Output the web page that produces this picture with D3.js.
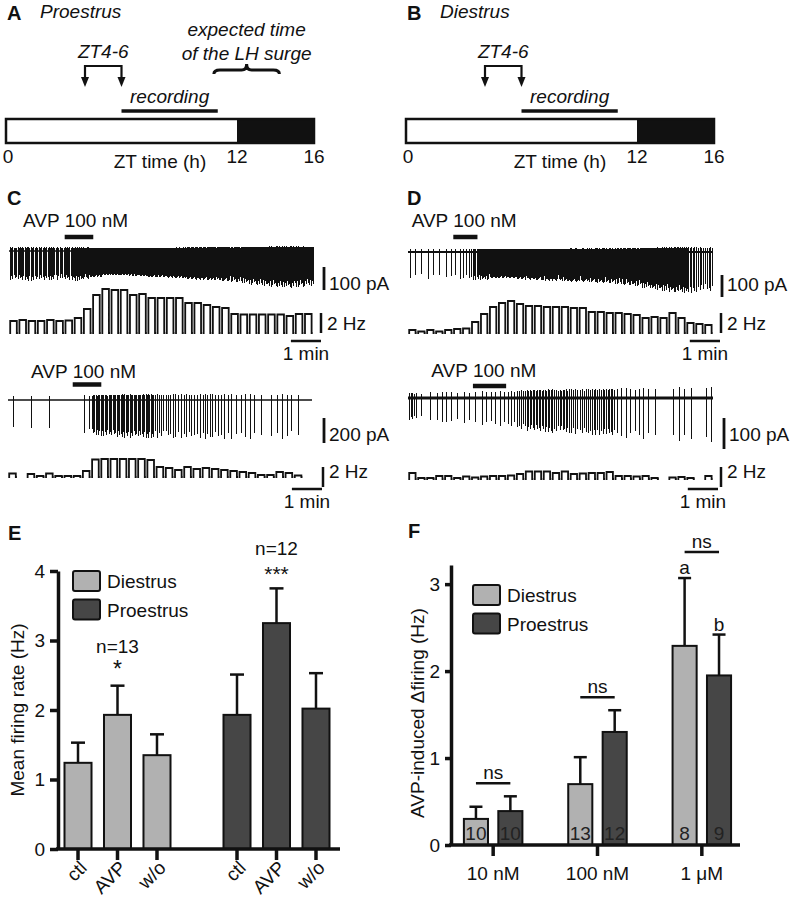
<!DOCTYPE html>
<html><head><meta charset="utf-8">
<script src="https://cdn.jsdelivr.net/npm/d3@7"></script>
<style>
body{margin:0;background:#fff}
svg{display:block}
text{font-family:"Liberation Sans",Arial,Helvetica,sans-serif}
</style>
</head><body>
<svg id="fig" width="792" height="900"></svg>
<script>
// ---------------- DATA ----------------
// Panels A/B: zeitgeber timeline (h)
const ztTicks = [0, 12, 16];
const lightPhase = [0, 12];
const darkPhase = [12, 16];
const zt46 = [4, 6];
const recordingWindow = [6, 11];
const lhSurgeWindow = [10.8, 14.2];

// Panels C/D: example recordings (rate histograms in Hz per bin, spike amplitude in pA per bin)
const traceMinutes = 10.1;
const c1Freq = [1.2,1.3,1.2,1.2,1.3,1.2,1.25,1.5,2.4,3.8,4.4,4.3,4.3,3.8,3.9,3.5,3.5,3.5,3.5,3.0,3.0,2.8,2.6,2.5,1.9,1.85,1.85,1.85,1.85,1.85,1.7,1.9,1.9];
const c1Amp  = [125,128,130,126,128,124,126,130,120,112,106,104,106,108,110,112,114,116,118,122,124,126,128,132,136,140,146,150,155,158,160,156,150];
const c2Freq = [0.35,0,0.3,0.1,0.35,0.1,0.1,0.1,0.6,1.75,1.8,1.8,1.8,1.8,1.8,1.7,1.0,0.9,0.7,1.0,0.8,0.9,0.8,0.7,0.6,0.5,0.4,0.2,0.2,0.5,0.4,0.15,0];
const c2Amp  = [215,0,230,235,240,240,250,255,260,280,290,295,300,300,300,305,300,305,300,310,305,310,310,315,310,320,315,320,310,315,300,310,0];
const d1Freq = [0.3,0.15,0.3,0.15,0.3,0.4,0.45,1.1,1.9,2.6,3.0,3.2,2.9,2.7,2.7,2.6,2.6,2.6,2.5,2.5,2.1,2.1,2.0,2.0,1.9,1.8,1.5,1.6,1.5,2.0,1.5,1.0,0.9,0.8];
const d1Amp  = [120,122,124,120,122,124,125,128,126,120,118,120,122,125,128,130,130,132,135,135,138,140,142,145,150,155,165,172,178,182,185,185,182,180];
const d2Freq = [0.6,0.1,0.1,0.3,0.3,0.1,0.25,0.15,0.25,0.3,0.3,0.35,0.5,0.75,0.75,0.75,0.6,0.75,0.5,0.55,0.6,0.6,0.7,0.3,0.3,0.25,0.3,0.1,0,0.15,0.2,0.1,0,0.3];
const d2Amp  = [70,70,72,80,82,80,85,86,88,90,92,95,100,105,108,110,112,112,115,118,120,120,122,125,128,130,132,135,135,140,145,148,150,152];
const avpC1 = [1.85, 2.8];
const avpC2 = [2.15, 3.1];
const avpD1 = [1.5, 2.3];
const avpD2 = [2.15, 3.25];
const spikeShape = [1, 0.88, 0.96, 0.82, 0.93, 0.9, 0.99, 0.85];

// Panel E
const eGroups = ["Diestrus", "Proestrus"];
const eConds = ["ctl", "AVP", "w/o"];
const eYTicks = [0, 1, 2, 3, 4];
const eDiestrusMean = [1.24, 1.93, 1.35];
const eDiestrusSem  = [0.29, 0.42, 0.30];
const eProestrusMean = [1.93, 3.25, 2.02];
const eProestrusSem  = [0.58, 0.50, 0.51];
const eNLabels = ["n=13", "n=12"];
const eStars = ["*", "***"];

// Panel F
const fConcs = ["10 nM", "100 nM", "1 \u03BCM"];
const fYTicks = [0, 1, 2, 3];
const fDiestrusMean = [0.30, 0.70, 2.29];
const fDiestrusSem  = [0.14, 0.31, 0.78];
const fProestrusMean = [0.39, 1.30, 1.95];
const fProestrusSem  = [0.17, 0.25, 0.47];
const fDiestrusN = ["10", "13", "8"];
const fProestrusN = ["10", "12", "9"];
const fNsLevel = [0.71, 1.70, 3.37];
const fLetters = ["a", "b"];

// ---------------- STYLE ----------------
const INK = "#111";
const LIGHT = "#b1b1b1";
const DARK = "#464646";
const FS = 19;

const svg = d3.select("#fig");
svg.append("rect").attr("width", 792).attr("height", 900).attr("fill", "#fff");

function label(g, x, y, str, o = {}) {
  return g.append("text").attr("x", x).attr("y", y)
    .attr("font-size", o.size || FS)
    .attr("font-style", o.italic ? "italic" : null)
    .attr("font-weight", o.bold ? "bold" : null)
    .attr("text-anchor", o.anchor || "start")
    .attr("fill", o.fill || INK)
    .text(str);
}

// ---------------- A / B ----------------
function drawTimeline(ox, letter, title, withSurge) {
  const g = svg.append("g");
  const x = d3.scaleLinear().domain([ztTicks[0], ztTicks[ztTicks.length - 1]]).range([ox + 6, ox + 314]);
  label(g, ox + 7, 20, letter, {bold: true, size: 20});
  label(g, ox + 40, 18, title, {italic: true});

  g.append("rect").attr("x", x(lightPhase[0])).attr("y", 119)
    .attr("width", x(lightPhase[1]) - x(lightPhase[0])).attr("height", 24).attr("fill", "#fff");
  g.append("rect").attr("x", x(darkPhase[0])).attr("y", 119)
    .attr("width", x(darkPhase[1]) - x(darkPhase[0])).attr("height", 24).attr("fill", INK);
  g.append("rect").attr("x", x(ztTicks[0])).attr("y", 119)
    .attr("width", x(ztTicks[ztTicks.length - 1]) - x(ztTicks[0])).attr("height", 24)
    .attr("fill", "none").attr("stroke", INK).attr("stroke-width", 2.5);

  ztTicks.forEach(t => label(g, x(t) + (t === 0 ? 2 : 0), 163, String(t), {anchor: "middle"}));
  label(g, x(8), 168, "ZT time (h)", {anchor: "middle"});

  // recording bar
  g.append("line").attr("x1", x(recordingWindow[0])).attr("x2", x(recordingWindow[1]))
    .attr("y1", 111).attr("y2", 111).attr("stroke", INK).attr("stroke-width", 3.5);
  label(g, (x(recordingWindow[0]) + x(recordingWindow[1])) / 2, 103, "recording", {italic: true, anchor: "middle"});

  // ZT4-6 bracket with arrows
  const xa = x(zt46[0]) + 2, xb = x(zt46[1]);
  g.append("path").attr("d", `M${xa},80 V66 H${xb} V80`).attr("fill", "none")
    .attr("stroke", INK).attr("stroke-width", 2.2);
  [xa, xb].forEach(xx => g.append("path")
    .attr("d", `M${xx - 4},77 L${xx + 4},77 L${xx},87 Z`).attr("fill", INK));
  label(g, (xa + xb) / 2, 58, "ZT4-6", {italic: true, anchor: "middle"});

  if (withSurge) {
    const x1 = x(lhSurgeWindow[0]), x2 = x(lhSurgeWindow[1]), m = (x1 + x2) / 2;
    g.append("path")
      .attr("d", `M${x1},74 Q${x1},70 ${x1 + 6},70 H${m - 5} Q${m},70 ${m},64 Q${m},70 ${m + 5},70 H${x2 - 6} Q${x2},70 ${x2},74`)
      .attr("fill", "none").attr("stroke", INK).attr("stroke-width", 3);
    label(g, m, 36, "expected time", {italic: true, anchor: "middle"});
    label(g, m, 60, "of the LH surge", {italic: true, anchor: "middle"});
  }
}
drawTimeline(0, "A", "Proestrus", true);
drawTimeline(400, "B", "Diestrus", false);

// ---------------- C / D traces ----------------
function drawTrace(c) {
  const g = svg.append("g");
  const xs = d3.scaleLinear().domain([0, traceMinutes]).range([c.x0, c.x1]);
  const ys = d3.scaleLinear().domain([0, -100]).range([c.rawBase, c.rawBase + c.px100]);
  const yf = d3.scaleLinear().domain([0, 5]).range([c.freqBase, c.freqBase - 50]);
  const binW = traceMinutes / c.freq.length;

  // AVP application
  g.append("line").attr("x1", xs(c.avp[0])).attr("x2", xs(c.avp[1]))
    .attr("y1", c.avpY).attr("y2", c.avpY).attr("stroke", INK).attr("stroke-width", 4.5);
  label(g, xs(c.avp[0]) - 5, c.avpY - c.avpGap, "AVP", {anchor: "end"});
  label(g, xs(c.avp[0]), c.avpY - c.avpGap, "100 nM");

  // baseline
  g.append("line").attr("x1", c.x0).attr("x2", c.x1).attr("y1", c.rawBase).attr("y2", c.rawBase)
    .attr("stroke", INK).attr("stroke-width", c.baseW);

  // spikes
  const p = d3.path();
  c.freq.forEach((f, i) => {
    const n = Math.round(f * c.density);
    for (let k = 0; k < n; k++) {
      const t = (i + (k + 0.5) / n) * binW;
      const a = c.amp[i] * spikeShape[(i * 3 + k) % spikeShape.length];
      const xx = Math.round(xs(t)) + 0.5;
      p.moveTo(xx, ys(a * c.up));
      p.lineTo(xx, ys(-a));
    }
  });
  g.append("path").attr("d", p.toString()).attr("fill", "none")
    .attr("stroke", INK).attr("stroke-width", c.spikeW).attr("shape-rendering", "crispEdges");

  // rate histogram
  const q = d3.path();
  c.freq.forEach((f, i) => {
    if (f <= 0) return;
    const xl = xs(i * binW), xr = xs((i + 1) * binW);
    q.moveTo(xl + 0.3, c.freqBase);
    q.lineTo(xl + 1.2, c.freqBase);
    q.lineTo(xl + 1.2, yf(f));
    q.lineTo(xr - 1.4, yf(f));
    q.lineTo(xr - 1.4, c.freqBase);
    q.lineTo(xr - 0.3, c.freqBase);
  });
  g.append("path").attr("d", q.toString()).attr("fill", "none")
    .attr("stroke", INK).attr("stroke-width", 1.8).attr("stroke-linejoin", "miter");

  // scale bars
  g.append("line").attr("x1", c.sbX).attr("x2", c.sbX)
    .attr("y1", c.paBottom).attr("y2", c.paBottom - (ys(-c.paLen) - ys(0)))
    .attr("stroke", INK).attr("stroke-width", 2.8);
  label(g, c.sbX + 5, c.paText, c.paLen + " pA");
  g.append("line").attr("x1", c.hzX).attr("x2", c.hzX)
    .attr("y1", c.hzBottom).attr("y2", c.hzBottom - (yf(0) - yf(2)))
    .attr("stroke", INK).attr("stroke-width", 2.5);
  label(g, c.hzX + 6, c.hzText, "2 Hz");
  const mlen = xs(1) - xs(0);
  g.append("line").attr("x1", c.minEnd - mlen).attr("x2", c.minEnd)
    .attr("y1", c.minY).attr("y2", c.minY).attr("stroke", INK).attr("stroke-width", 2.5);
  label(g, c.minEnd - mlen / 2, c.minY + 19, "1 min", {anchor: "middle"});
}

label(svg, 7, 205, "C", {bold: true, size: 20});
label(svg, 407, 205, "D", {bold: true, size: 20});

drawTrace({freq: c1Freq, amp: c1Amp, avp: avpC1, x0: 9, x1: 313, rawBase: 251, px100: 23,
  freqBase: 333, density: 6, up: 0.13, spikeW: 1, baseW: 1.5, avpY: 237, avpGap: 10,
  sbX: 324, paBottom: 290, paLen: 100, paText: 290, hzX: 321, hzBottom: 333, hzText: 330,
  minEnd: 321, minY: 341});
drawTrace({freq: c2Freq, amp: c2Amp, avp: avpC2, x0: 8, x1: 312, rawBase: 400, px100: 12.5,
  freqBase: 477, density: 4, up: 0.15, spikeW: 1, baseW: 1.6, avpY: 384.5, avpGap: 7,
  sbX: 324, paBottom: 443, paLen: 200, paText: 441, hzX: 323, hzBottom: 487, hzText: 478,
  minEnd: 322, minY: 489});
drawTrace({freq: d1Freq, amp: d1Amp, avp: avpD1, x0: 408, x1: 713, rawBase: 252, px100: 22,
  freqBase: 333, density: 6, up: 0.12, spikeW: 1, baseW: 2, avpY: 237, avpGap: 10,
  sbX: 722, paBottom: 297, paLen: 100, paText: 291, hzX: 721, hzBottom: 333, hzText: 330,
  minEnd: 720, minY: 341});
drawTrace({freq: d2Freq, amp: d2Amp, avp: avpD2, x0: 408, x1: 713, rawBase: 398, px100: 31,
  freqBase: 479, density: 8, up: 0.25, spikeW: 1, baseW: 3, avpY: 386, avpGap: 9,
  sbX: 724, paBottom: 449, paLen: 100, paText: 441, hzX: 721, hzBottom: 487, hzText: 478,
  minEnd: 718, minY: 489});

// ---------------- shared bar helpers ----------------
function styleAxis(g) {
  g.select(".domain").attr("stroke", INK).attr("stroke-width", 3.5);
  g.selectAll(".tick line").attr("stroke", INK).attr("stroke-width", 3.5);
  g.selectAll(".tick text").attr("font-size", FS).attr("fill", INK)
    .attr("font-family", '"Liberation Sans",Arial,sans-serif');
}
function legend(g, x, y) {
  [[LIGHT, "Diestrus"], [DARK, "Proestrus"]].forEach((d, i) => {
    g.append("rect").attr("x", x).attr("y", y + i * 28.5).attr("width", 27).attr("height", 20)
      .attr("rx", 2).attr("fill", d[0]).attr("stroke", INK).attr("stroke-width", 2);
    label(g, x + 34, y + 17 + i * 28.5, d[1]);
  });
}

// ---------------- E ----------------
(function () {
  const g = svg.append("g");
  label(g, 8, 540, "E", {bold: true, size: 20});
  const y = d3.scaleLinear().domain([0, 4]).range([849, 571]);
  const outer = d3.scaleBand().domain(eGroups).range([38, 356]);
  const inner = d3.scaleBand().domain(eConds).range([26.5, 132.5]).paddingInner(0.316);
  const series = [
    {grp: "Diestrus", mean: eDiestrusMean, sem: eDiestrusSem, fill: LIGHT},
    {grp: "Proestrus", mean: eProestrusMean, sem: eProestrusSem, fill: DARK}
  ];
  const bw = inner.bandwidth();
  series.forEach((s, si) => {
    eConds.forEach((c, ci) => {
      const cx = outer(s.grp) + inner(c) + bw / 2;
      const top = y(s.mean[ci]), et = y(s.mean[ci] + s.sem[ci]);
      g.append("line").attr("x1", cx).attr("x2", cx).attr("y1", top).attr("y2", et)
        .attr("stroke", INK).attr("stroke-width", 2.5);
      g.append("line").attr("x1", cx - 7).attr("x2", cx + 7).attr("y1", et).attr("y2", et)
        .attr("stroke", INK).attr("stroke-width", 2.5);
      g.append("rect").attr("x", cx - bw / 2).attr("y", top).attr("width", bw)
        .attr("height", y(0) - top).attr("fill", s.fill).attr("stroke", INK).attr("stroke-width", 2);
      // x tick
      g.append("line").attr("x1", cx).attr("x2", cx).attr("y1", 849).attr("y2", 860)
        .attr("stroke", INK).attr("stroke-width", 3.5);
      g.append("text").attr("transform", `translate(${cx + 10},869) rotate(-45)`)
        .attr("text-anchor", "end").attr("font-size", FS).attr("fill", INK).text(c);
      if (c === "AVP") {
        label(g, cx, et - 9 + (si ? 2 : 0), eStars[si], {anchor: "middle", size: si ? 21 : 23});
        label(g, cx, et - 33, eNLabels[si], {anchor: "middle"});
      }
    });
  });
  g.append("line").attr("x1", 56).attr("x2", 340).attr("y1", 849).attr("y2", 849)
    .attr("stroke", INK).attr("stroke-width", 3.5);
  g.append("g").attr("transform", "translate(58,0)")
    .call(d3.axisLeft(y).tickValues(eYTicks).tickFormat(d3.format("d")).tickSize(8).tickSizeOuter(0).tickPadding(5))
    .call(styleAxis);
  g.append("text").attr("transform", "translate(24,710) rotate(-90)").attr("text-anchor", "middle")
    .attr("font-size", FS).attr("fill", INK).text("Mean firing rate (Hz)");
  legend(g, 73, 571);
})();

// ---------------- F ----------------
(function () {
  const g = svg.append("g");
  label(g, 408, 538, "F", {bold: true, size: 20});
  const y = d3.scaleLinear().domain([0, 3.22]).range([845, 565]);
  const outer = d3.scaleBand().domain(fConcs).range([441, 754]);
  const inner = d3.scaleBand().domain(eGroups).range([22.9, 81.4]).paddingInner(0.3);
  const bw = inner.bandwidth();
  const series = [
    {grp: "Diestrus", mean: fDiestrusMean, sem: fDiestrusSem, n: fDiestrusN, fill: LIGHT},
    {grp: "Proestrus", mean: fProestrusMean, sem: fProestrusSem, n: fProestrusN, fill: DARK}
  ];
  series.forEach((s, si) => {
    fConcs.forEach((c, ci) => {
      const cx = outer(c) + inner(s.grp) + bw / 2;
      const top = y(s.mean[ci]), et = y(s.mean[ci] + s.sem[ci]);
      g.append("line").attr("x1", cx).attr("x2", cx).attr("y1", top).attr("y2", et)
        .attr("stroke", INK).attr("stroke-width", 2.5);
      g.append("line").attr("x1", cx - 6.5).attr("x2", cx + 6.5).attr("y1", et).attr("y2", et)
        .attr("stroke", INK).attr("stroke-width", 2.5);
      g.append("rect").attr("x", cx - bw / 2).attr("y", top).attr("width", bw)
        .attr("height", y(0) - top).attr("fill", s.fill).attr("stroke", INK).attr("stroke-width", 2);
      label(g, cx, 840, s.n[ci], {anchor: "middle", fill: "#222"});
      if (ci === fConcs.length - 1) label(g, cx, et - 4, fLetters[si], {anchor: "middle"});
    });
  });
  fConcs.forEach((c, ci) => {
    const cx = outer(c) + outer.bandwidth() / 2;
    const xl = outer(c) + inner("Diestrus") + bw / 2, xr = outer(c) + inner("Proestrus") + bw / 2;
    g.append("line").attr("x1", xl).attr("x2", xr).attr("y1", y(fNsLevel[ci])).attr("y2", y(fNsLevel[ci]))
      .attr("stroke", INK).attr("stroke-width", 2.5);
    label(g, cx, y(fNsLevel[ci]) - 4, "ns", {anchor: "middle"});
    g.append("line").attr("x1", cx).attr("x2", cx).attr("y1", 845).attr("y2", 856)
      .attr("stroke", INK).attr("stroke-width", 3.5);
    label(g, cx, 880, c, {anchor: "middle"});
  });
  g.append("line").attr("x1", 449).attr("x2", 740).attr("y1", 845).attr("y2", 845)
    .attr("stroke", INK).attr("stroke-width", 3.5);
  g.append("g").attr("transform", "translate(451,0)")
    .call(d3.axisLeft(y).tickValues(fYTicks).tickFormat(d3.format("d")).tickSize(6).tickSizeOuter(0).tickPadding(5))
    .call(styleAxis);
  g.append("text").attr("transform", "translate(424,713) rotate(-90)").attr("text-anchor", "middle")
    .attr("font-size", FS).attr("fill", INK).text("AVP-induced \u0394firing (Hz)");
  legend(g, 473, 585);
})();
</script>
</body></html>
